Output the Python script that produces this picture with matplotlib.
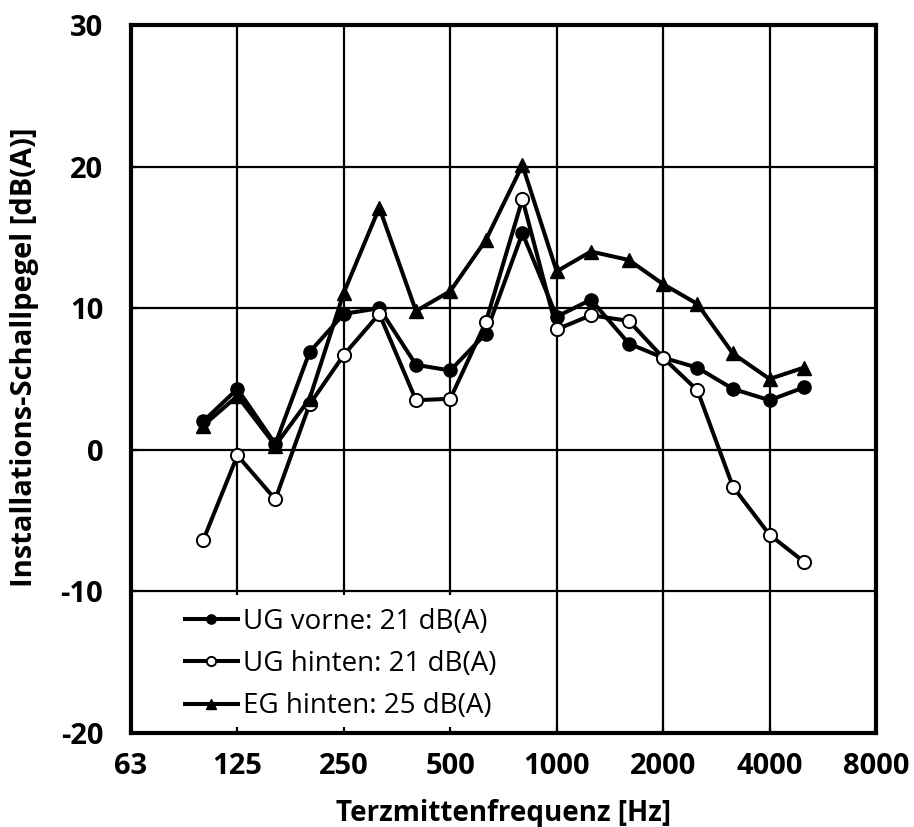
import numpy as np
import matplotlib
matplotlib.use('Agg')
import matplotlib.pyplot as plt
from matplotlib.patches import Rectangle

plt.rcParams['font.family'] = ['Open Sans', 'DejaVu Sans']
plt.rcParams['axes.unicode_minus'] = False

# Terzmittenfrequenzen [Hz]
freqs = [100, 125, 160, 200, 250, 315, 400, 500, 630, 800,
         1000, 1250, 1600, 2000, 2500, 3150, 4000, 5000]

ug_vorne = [2.0, 4.3, 0.4, 6.9, 9.6, 10.0, 6.0, 5.6, 8.2, 15.3,
            9.4, 10.6, 7.5, 6.5, 5.8, 4.3, 3.5, 4.4]
ug_hinten = [-6.4, -0.4, -3.5, 3.2, 6.7, 9.6, 3.5, 3.6, 9.0, 17.7,
             8.5, 9.5, 9.1, 6.5, 4.2, -2.6, -6.0, -7.9]
eg_hinten = [1.7, 3.8, 0.3, 3.6, 11.1, 17.1, 9.8, 11.2, 14.8, 20.1,
             12.6, 14.0, 13.4, 11.7, 10.3, 6.8, 5.0, 5.8]

labels = ['UG vorne: 21 dB(A)', 'UG hinten: 21 dB(A)', 'EG hinten: 25 dB(A)']
xticks = [62.5, 125, 250, 500, 1000, 2000, 4000, 8000]
xticklabels = ['63', '125', '250', '500', '1000', '2000', '4000', '8000']
yticks = [-20, -10, 0, 10, 20, 30]

fig = plt.figure(figsize=(9.14, 8.27), dpi=100)
ax = fig.add_axes([0.1433, 0.1137, 0.8151, 0.8561])

# grid drawn by hand so the legend box can hide it while ticks stay on top
for xt in xticks:
    ax.axvline(xt, color='black', lw=1.6, zorder=1)
for yt in yticks:
    ax.axhline(yt, color='black', lw=1.6, zorder=1)
ax.add_patch(Rectangle((0, 0), 0.535, 0.195, transform=ax.transAxes,
                       facecolor='white', edgecolor='none', zorder=1.5))

ax.plot(freqs, ug_vorne, color='black', lw=2.9, marker='o', ms=9.5,
        mfc='black', mec='black', label=labels[0], zorder=3)
ax.plot(freqs, ug_hinten, color='black', lw=2.9, marker='o', ms=9.5,
        mfc='white', mec='black', mew=1.4, label=labels[1], zorder=4)
ax.plot(freqs, eg_hinten, color='black', lw=2.9, marker='^', ms=10,
        mfc='black', mec='black', label=labels[2], zorder=5)

ax.set_xscale('log', base=2)
ax.set_xlim(62.5, 8000)
ax.set_ylim(-20, 30)
ax.set_xticks(xticks)
ax.set_xticklabels(xticklabels)
ax.xaxis.set_minor_locator(matplotlib.ticker.NullLocator())
ax.set_yticks(yticks)

for s in ax.spines.values():
    s.set_linewidth(3)

ax.tick_params(axis='x', direction='in', length=4, width=1.6, pad=14)
ax.tick_params(axis='y', direction='in', length=4, width=1.6, pad=20)
for lab in ax.get_xticklabels() + ax.get_yticklabels():
    lab.set_fontsize(21)
    lab.set_fontweight('bold')

ax.set_xlabel('Terzmittenfrequenz [Hz]', fontsize=20, fontweight='bold', labelpad=13)
ax.set_ylabel('Installations-Schallpegel [dB(A)]', fontsize=21, fontweight='bold')
ax.yaxis.set_label_coords(-0.124, 0.531)

leg = ax.legend(loc='upper left', bbox_to_anchor=(0.2024, 0.2648),
                bbox_transform=fig.transFigure, frameon=False,
                fontsize=20, handlelength=1.9, handletextpad=0.18,
                labelspacing=0.51, borderpad=0, borderaxespad=0,
                markerscale=0.7)
leg.set_zorder(6)

fig.savefig('out.png', dpi=100)
